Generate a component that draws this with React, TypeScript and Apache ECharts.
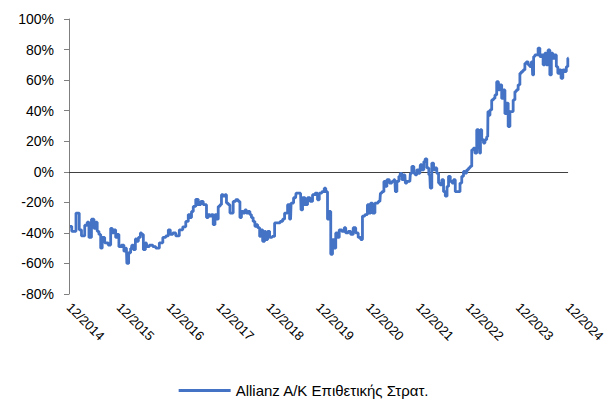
import React, { useEffect, useRef } from "react";
import * as echarts from "echarts";

// Years elapsed since 12/2014 and cumulative return (%)
const yearsSinceStart: number[] = [
  0.02, 0.09, 0.19, 0.22, 0.28, 0.35, 0.38, 0.42, 0.48, 0.52, 0.55, 0.58, 0.62, 0.65, 0.68, 0.75, 0.82, 0.85, 0.88, 0.92, 0.95, 0.98,
  1.02, 1.08, 1.12, 1.15, 1.17, 1.22, 1.25, 1.27, 1.31, 1.35, 1.37, 1.41, 1.45, 1.47, 1.51, 1.55, 1.57, 1.65, 1.71, 1.77, 1.85, 1.91, 1.97,
  2.01, 2.05, 2.11, 2.17, 2.25, 2.31, 2.37, 2.41, 2.44, 2.47, 2.51, 2.57, 2.61, 2.67, 2.71, 2.74, 2.77, 2.81, 2.84, 2.87, 2.91, 2.94, 2.97,
  3.01, 3.04, 3.07, 3.11, 3.14, 3.17, 3.21, 3.24, 3.27, 3.31, 3.37, 3.41, 3.44, 3.47, 3.51, 3.54, 3.57, 3.61, 3.64, 3.67, 3.71, 3.74, 3.76, 3.8, 3.84, 3.86, 3.9, 3.94, 3.96,
  4.0, 4.04, 4.1, 4.14, 4.2, 4.26, 4.3, 4.34, 4.36, 4.4, 4.44, 4.46, 4.54, 4.56, 4.64, 4.66, 4.7, 4.76, 4.8, 4.86, 4.9, 4.96,
  5.0, 5.03, 5.1, 5.13, 5.16, 5.2, 5.23, 5.26, 5.3, 5.33, 5.36, 5.4, 5.43, 5.5, 5.53, 5.56, 5.63, 5.66, 5.73, 5.76, 5.83, 5.86, 5.9, 5.96,
  6.0, 6.03, 6.06, 6.1, 6.16, 6.23, 6.25, 6.29, 6.33, 6.35, 6.39, 6.45, 6.49, 6.53, 6.55, 6.59, 6.63, 6.65, 6.69, 6.73, 6.75, 6.79, 6.83, 6.85, 6.89, 6.93, 6.95, 6.99,
  7.03, 7.05, 7.09, 7.13, 7.15, 7.19, 7.23, 7.25, 7.29, 7.32, 7.35, 7.39, 7.42, 7.45, 7.49, 7.52, 7.56, 7.59, 7.62, 7.66, 7.69, 7.72, 7.76, 7.79, 7.82, 7.85, 7.89, 7.92, 7.95, 7.99,
  8.02, 8.05, 8.09, 8.12, 8.15, 8.19, 8.22, 8.24, 8.25, 8.29, 8.32, 8.35, 8.39, 8.4, 8.42, 8.45, 8.49, 8.52, 8.55, 8.59, 8.62, 8.65, 8.69, 8.72, 8.75, 8.78, 8.82, 8.85, 8.88, 8.92, 8.95, 8.98,
  9.02, 9.05, 9.08, 9.12, 9.15, 9.18, 9.22, 9.25, 9.28, 9.3, 9.32, 9.35, 9.38, 9.42, 9.45, 9.48, 9.52, 9.55, 9.58, 9.62, 9.65, 9.68, 9.71, 9.75, 9.78, 9.81, 9.84, 9.88, 9.91, 9.95, 9.98,
  10.01,
];

const cumulativeReturn: number[] = [
  -35.7, -39, -27, -38, -42, -35, -33, -43, -31, -37, -33, -39, -41, -50, -43, -46.5, -48, -37, -40, -38, -43, -41,
  -49, -48, -52, -50, -60, -53, -50, -48, -51, -44, -45.5, -43, -40, -41, -51, -46.5, -49, -48, -49, -50, -46.5, -43, -42,
  -38, -41, -40, -42, -38, -36, -32.5, -28, -30, -26, -22.7, -18, -21.5, -19.4, -21.5, -21.5, -30, -28, -29, -28, -34.6, -28, -31,
  -22.7, -21.5, -15, -16, -15, -20.5, -21.5, -27, -27, -19.4, -18.3, -19.4, -30, -26, -27, -25, -27, -26, -28, -30, -32.5, -35.7, -34.6, -36.6, -42.3, -38, -45.5, -39, -44.4,
  -39, -43, -42.3, -33.5, -33.5, -32.5, -31, -27, -27, -21.5, -31, -20.5, -17, -14, -14, -25, -17, -21.5, -17, -19.4, -15, -14,
  -18.3, -14, -13, -10.7, -13, -31, -26, -54, -44.4, -50, -40, -43, -38, -39, -36.6, -40, -39, -41, -36.6, -40, -43, -44.4, -29, -28,
  -21.5, -27, -20.5, -27, -20.5, -19.4, -14, -13, -6.3, -9.6, -5.2, -7.4, -6.3, -5.2, -13, -6.3, -3, -1, -5.2, -2, -7.4, -6.3, -6.3, -1, 3.5, -1, -2, 1.3,
  -1, 4.6, 1.3, 6.7, 8.5, 2.5, -2, -10.7, 5.7, 1.3, 2.5, -1, -7.4, -8.5, -5.2, -13, -16, -9.6, -3, -6.3, -7.4, -5.2, -13, -13, -13, -7.4, -3, 0.2, -0.8, 1.3,
  2.4, 3.5, 14.4, 15.5, 12.2, 27.5, 21, 12.2, 27.5, 21, 18.8, 21, 23, 39.4, 37, 40.5, 47, 48, 50.3, 59, 53.6, 56.9, 48, 53.6, 38, 45, 29.6, 39.4, 39.4, 47, 52.5, 53.6,
  56.9, 64.5, 65.6, 66.7, 71, 72, 70, 68.8, 72, 63.4, 75.4, 76.5, 76.5, 81, 75.4, 76.5, 70, 77.6, 70, 79.7, 63.4, 77.6, 74.3, 76.5, 68.8, 64.5, 66.7, 61.2, 66.7, 65.6, 68.8,
  74.3,
];

const startYear = 2014;
const yTicks = { min: -80, max: 100, interval: 20 };
const seriesName = "Allianz A/K Επιθετικής Στρατ.";

export default function App() {
  const ref = useRef<HTMLDivElement>(null);

  useEffect(() => {
    if (!ref.current) return;
    const chart = echarts.init(ref.current, null, { renderer: "svg" });
    const font = "'Liberation Sans', Arial, sans-serif";
    const points = yearsSinceStart.map((t, i) => [t, cumulativeReturn[i]]);

    chart.setOption({
      animation: false,
      backgroundColor: "#ffffff",
      textStyle: { fontFamily: font },
      grid: { left: 69, right: 38, top: 19, bottom: 107, containLabel: false },
      xAxis: {
        type: "value",
        min: 0,
        max: 10,
        interval: 1,
        position: "bottom",
        axisLine: { show: false },
        axisTick: { show: false },
        splitLine: { show: false },
        axisLabel: {
          rotate: -45,
          margin: 11,
          fontSize: 13,
          color: "#000000",
          fontFamily: font,
          formatter: (v: number) => `12/${startYear + v}`,
        },
      },
      yAxis: {
        type: "value",
        min: yTicks.min,
        max: yTicks.max,
        interval: yTicks.interval,
        axisLine: { show: true, lineStyle: { color: "#7f7f7f", width: 1 } },
        axisTick: { show: true, inside: false, length: 5, lineStyle: { color: "#7f7f7f" } },
        splitLine: { show: false },
        axisLabel: {
          fontSize: 14,
          color: "#000000",
          margin: 15,
          fontFamily: font,
          formatter: (v: number) => `${v}%`,
        },
      },
      legend: {
        show: true,
        top: 378,
        left: "center",
        icon: "rect",
        itemWidth: 52,
        itemHeight: 3,
        itemGap: 10,
        textStyle: { fontSize: 15, color: "#000000", fontFamily: font },
        data: [seriesName],
      },
      series: [
        {
          name: seriesName,
          type: "line",
          data: points,
          step: "middle",
          showSymbol: false,
          symbol: "none",
          lineStyle: { color: "#4472C4", width: 2.8 },
          itemStyle: { color: "#4472C4" },
          z: 3,
          markLine: {
            silent: true,
            symbol: ["none", "none"],
            label: { show: false },
            lineStyle: { color: "#404040", width: 1.2, type: "solid" },
            data: [{ yAxis: 0 }],
            z: 2,
          },
        },
      ],
    });

    return () => chart.dispose();
  }, []);

  return (
    <div
      ref={ref}
      style={{ position: "absolute", left: 0, top: 0, width: 608, height: 401 }}
    />
  );
}
